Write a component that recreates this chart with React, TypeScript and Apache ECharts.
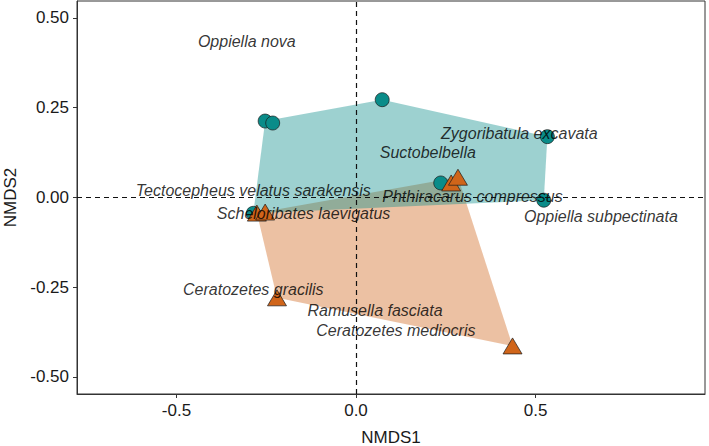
import React, { useEffect, useRef } from "react";
import * as echarts from "echarts";

// Site scores (circles = group A, triangles = group B)
const circleX = [-0.253, -0.232, 0.073, 0.533, 0.523, 0.236, -0.286];
const circleY = [0.2125, 0.207, 0.272, 0.169, -0.008, 0.04, -0.0445];
const triangleX = [-0.276, -0.253, 0.265, 0.284, -0.22, 0.436];
const triangleY = [-0.044, -0.041, 0.04, 0.056, -0.28, -0.414];

// Species scores
const speciesNames = [
  "Oppiella nova",
  "Zygoribatula excavata",
  "Suctobelbella",
  "Tectocepheus velatus sarakensis",
  "Phthiracarus compressus",
  "Oppiella subpectinata",
  "Scheloribates laevigatus",
  "Ceratozetes gracilis",
  "Ramusella fasciata",
  "Ceratozetes mediocris",
];
const speciesX = [-0.304, 0.455, 0.2, -0.286, 0.3245, 0.682, -0.146, -0.286, 0.053, 0.111];
const speciesY = [0.433, 0.178, 0.125, 0.019, 0.002, -0.054, -0.045, -0.258, -0.316, -0.37];

const xTicks = [-0.5, 0, 0.5];
const yTicks = [-0.5, -0.25, 0, 0.25, 0.5];

const TEAL = "#0a8c89";
const ORANGE = "#d0651a";

function hull(pts: number[][]): number[][] {
  const p = pts.slice().sort((a, b) => a[0] - b[0] || a[1] - b[1]);
  const cross = (o: number[], a: number[], b: number[]) =>
    (a[0] - o[0]) * (b[1] - o[1]) - (a[1] - o[1]) * (b[0] - o[0]);
  const lower: number[][] = [];
  for (const q of p) {
    while (lower.length >= 2 && cross(lower[lower.length - 2], lower[lower.length - 1], q) <= 0) lower.pop();
    lower.push(q);
  }
  const upper: number[][] = [];
  for (let i = p.length - 1; i >= 0; i--) {
    const q = p[i];
    while (upper.length >= 2 && cross(upper[upper.length - 2], upper[upper.length - 1], q) <= 0) upper.pop();
    upper.push(q);
  }
  upper.pop();
  lower.pop();
  return lower.concat(upper);
}

export default function App() {
  const ref = useRef<HTMLDivElement>(null);
  useEffect(() => {
    document.body.style.margin = "0";
    const chart = echarts.init(ref.current!, null, { renderer: "svg" });
    const circles = circleX.map((x, i) => [x, circleY[i]]);
    const triangles = triangleX.map((x, i) => [x, triangleY[i]]);
    const hullC = hull(circles);
    const hullT = hull(triangles);
    const species = speciesNames.map((n, i) => [speciesX[i], speciesY[i], n]);
    const polySeries = (pts: number[][], color: string) => ({
      type: "custom",
      data: [[0, 0]],
      silent: true,
      renderItem: (_params: any, api: any) => ({
        type: "polygon",
        shape: { points: pts.map((p) => api.coord(p)) },
        style: { fill: color, opacity: 0.4, stroke: "none" },
      }),
    });
    const font = "'Liberation Sans', Arial, sans-serif";
    chart.setOption({
      animation: false,
      grid: {
        left: 77,
        right: 4,
        top: 1,
        bottom: 52,
        outerBoundsMode: "none",
        containLabel: false,
        show: true,
        borderColor: "#333",
        borderWidth: 1,
      },
      xAxis: {
        type: "value",
        min: -0.777,
        max: 0.972,
        name: "NMDS1",
        nameLocation: "middle",
        nameGap: 35,
        nameTextStyle: { fontFamily: font, fontSize: 17, color: "#1a1a1a" },
        splitLine: { show: false },
        axisLine: { show: true, onZero: false, lineStyle: { color: "#333" } },
        axisTick: { show: true, length: 4, customValues: xTicks, lineStyle: { color: "#333" } },
        axisLabel: {
          customValues: xTicks,
          formatter: (v: number) => v.toFixed(1),
          fontFamily: font,
          fontSize: 17,
          color: "#1a1a1a",
          margin: 8,
        },
      },
      yAxis: {
        type: "value",
        min: -0.548,
        max: 0.547,
        name: "NMDS2",
        nameLocation: "middle",
        nameGap: 56,
        nameTextStyle: { fontFamily: font, fontSize: 17, color: "#1a1a1a" },
        splitLine: { show: false },
        axisLine: { show: true, onZero: false, lineStyle: { color: "#333" } },
        axisTick: { show: true, length: 4, customValues: yTicks, lineStyle: { color: "#333" } },
        axisLabel: {
          customValues: yTicks,
          formatter: (v: number) => v.toFixed(2),
          fontFamily: font,
          fontSize: 17,
          color: "#1a1a1a",
          margin: 8,
        },
      },
      series: [
        polySeries(hullT, ORANGE),
        polySeries(hullC, TEAL),
        {
          type: "scatter",
          data: [],
          silent: true,
          markLine: {
            silent: true,
            symbol: "none",
            label: { show: false },
            lineStyle: { color: "#111", width: 1.2, type: [5, 4] },
            data: [{ xAxis: 0 }, { yAxis: 0 }],
          },
        },
        {
          type: "scatter",
          data: circles,
          symbol: "circle",
          symbolSize: 14,
          itemStyle: { color: TEAL, borderColor: "#1a1a1a", borderWidth: 0.7, opacity: 1 },
        },
        {
          type: "scatter",
          data: triangles,
          symbol: "triangle",
          symbolSize: [19, 16],
          itemStyle: { color: ORANGE, borderColor: "#1a1a1a", borderWidth: 0.7, opacity: 1 },
        },
        {
          type: "scatter",
          data: species,
          symbolSize: 0,
          silent: true,
          label: {
            show: true,
            position: "inside",
            formatter: (p: any) => p.data[2],
            fontFamily: font,
            fontStyle: "italic",
            fontSize: 16,
            color: "#000",
          },
        },
      ],
    });
    return () => chart.dispose();
  }, []);
  return (
    <div
      ref={ref}
      style={{ position: "absolute", left: 0, top: 0, width: 709, height: 446 }}
    />
  );
}
